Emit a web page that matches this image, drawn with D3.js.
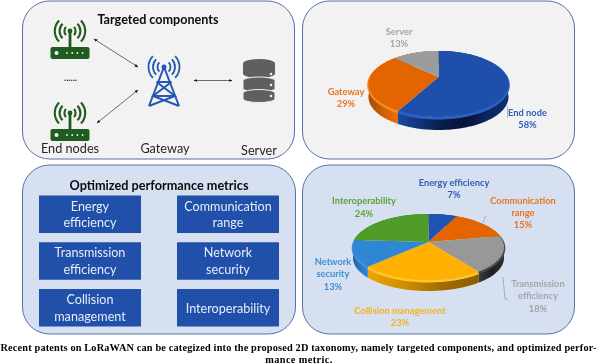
<!DOCTYPE html>
<html>
<head>
<meta charset="utf-8">
<script src="https://cdn.jsdelivr.net/npm/d3@7"></script>
<style>
html, body { margin: 0; padding: 0; background: #fff; }
svg { display: block; filter: blur(0.3px); }
text { font-family: Lato, "Open Sans", sans-serif; }
.caption { font-family: "Liberation Serif", serif; font-weight: bold; font-size: 10.3px; fill: #000; }
</style>
</head>
<body>
<svg id="chart" width="600" height="364"></svg>
<script>
//data
const componentNames = ["End node", "Gateway", "Server"];
const componentShares = [58, 29, 13];
const metricNames = ["Energy efficiency", "Communication range", "Transmission efficiency", "Collision management", "Network security", "Interoperability"];
const metricShares = [7, 15, 18, 23, 13, 24];
const boxLabels = [["Energy", "efficiency"], ["Communication", "range"], ["Transmission", "efficiency"], ["Network", "security"], ["Collision", "management"], ["Interoperability"]];
const nodeLabels = ["End nodes", "Gateway", "Server"];
const captionLines = ["Recent patents on LoRaWAN can be categized into the proposed 2D taxonomy, namely targeted components, and optimized perfor-", "mance metric."];

const svg = d3.select("#chart");
const defs = svg.append("defs");

//panels
function panel(x, y, w, h, fill) {
    svg.append("rect")
        .attr("x", x).attr("y", y).attr("width", w).attr("height", h)
        .attr("rx", 27).attr("ry", 27)
        .attr("fill", fill)
        .attr("stroke", "#5471a8")
        .attr("stroke-width", 1);
}
panel(22.5, 1, 272, 158, "#f2f2f2");
panel(302.5, 1, 272, 158, "#f2f2f2");
panel(22.5, 165, 273, 169, "#d6e0f1");
panel(302.5, 165, 272, 169, "#d6e0f1");

function label(x, y, lines, size, color, weight, step) {
    lines.forEach((s, i) => {
        svg.append("text")
            .attr("x", x).attr("y", y + i * step)
            .attr("text-anchor", "middle")
            .attr("font-size", size)
            .attr("font-weight", weight || "normal")
            .attr("fill", color)
            .text(s);
    });
}

//3D pie, the top face is a circle under perspective
function pie3d(id, values, opt) {
    const pie = d3.pie().sort(null).value(d => d)(values);
    const k = (opt.up - opt.down) / (opt.up + opt.down);
    const a = opt.down * (1 + k);
    const b = opt.rx * Math.sqrt(1 - k * k);
    const g = svg.append("g").attr("transform", `translate(${opt.cx}, ${opt.cy})`);
    const line = d3.line();

    const rim = function(d) {
        const n = Math.ceil((d.endAngle - d.startAngle) * 40);
        return d3.range(n + 1).map(i => {
            const t = d.startAngle + (d.endAngle - d.startAngle) * i / n;
            const x = Math.sin(t), y = -Math.cos(t), w = 1 + k * y;
            return [b * x / w, a * y / w];
        });
    };

    //side wall
    pie.forEach((d, i) => {
        const pts = rim(d);
        const grad = defs.append("linearGradient")
            .attr("id", `${id}-wall-${i}`)
            .attr("gradientUnits", "userSpaceOnUse")
            .attr("x1", d3.min(pts, p => p[0])).attr("x2", d3.max(pts, p => p[0]))
            .attr("y1", 0).attr("y2", 0);
        opt.walls[i].forEach((c, j, all) => {
            grad.append("stop").attr("offset", j / (all.length - 1)).attr("stop-color", c);
        });
        const low = pts.map(p => [p[0], p[1] + opt.depth]).reverse();
        g.append("path")
            .attr("d", line(pts.concat(low)) + "Z")
            .attr("fill", `url(#${id}-wall-${i})`);
    });

    //bevel just under the rim
    pie.forEach((d, i) => {
        const pts = rim(d).map(p => [p[0], p[1] + 1.2]);
        g.append("path")
            .attr("d", line(pts))
            .attr("fill", "none")
            .attr("stroke", opt.bevel[i])
            .attr("stroke-width", 2.6);
    });

    //top face
    pie.forEach((d, i) => {
        g.append("path")
            .attr("d", line([[0, 0]].concat(rim(d))) + "Z")
            .attr("fill", opt.tops[i]);
    });
}

pie3d("parts", componentShares, {
    cx: 438.5, cy: 77, rx: 70, up: 26, down: 40, depth: 13,
    tops: ["#1d4fab", "#e36500", "#9c9c9c"],
    bevel: ["#2a62c4", "#f58a25", "#8a8a8a"],
    walls: [
        ["#1d4a9e", "#12327a", "#0a1c4a", "#061238", "#0c2460", "#10306f"],
        ["#a84c04", "#cf5f06", "#e8700c"],
        ["#777777", "#777777"]
    ]
});

pie3d("metrics", metricShares, {
    cx: 428.5, cy: 242, rx: 75.5, up: 28, down: 38, depth: 11,
    tops: ["#1e55b4", "#e46400", "#989898", "#ffb000", "#2f86d2", "#4f9c2a"],
    bevel: ["#1e55b4", "#e46400", "#4a4a4a", "#ffc52e", "#3b93dc", "#4f9c2a"],
    walls: [
        ["#1e55b4", "#1e55b4"],
        ["#e46400", "#e46400"],
        ["#3a3a3a", "#202020", "#2c2c2c"],
        ["#efa500", "#cf8e00", "#a06c00", "#8c5c00"],
        ["#1f5f9e", "#2a78c0", "#2f86d2"],
        ["#4f9c2a", "#4f9c2a"]
    ]
});

//pie labels
const grey = "#a5a5a5", blue = "#2f5fb4", orange = "#e8761f";
const pieFont = 9.3;
label(399, 35, [componentNames[2], componentShares[2] + "%"], pieFont, grey, "bold", 12);
label(346, 95, [componentNames[1], componentShares[1] + "%"], pieFont, orange, "bold", 12.2);
label(527.5, 116, [componentNames[0], componentShares[0] + "%"], pieFont, blue, "bold", 12.2);
label(454, 186, [metricNames[0], metricShares[0] + "%"], pieFont, blue, "bold", 12.2);
label(364, 204, [metricNames[5], metricShares[5] + "%"], pieFont, "#5ea33a", "bold", 12.6);
label(523, 204, ["Communication", "range", metricShares[1] + "%"], pieFont, orange, "bold", 12.2);
label(333, 265, ["Network", "security", metricShares[4] + "%"], pieFont, "#3d8fd6", "bold", 12.3);
label(538, 287, ["Transmission", "efficiency", metricShares[2] + "%"], pieFont, grey, "bold", 12.3);
label(400, 314, [metricNames[3], metricShares[3] + "%"], pieFont, "#f5b21a", "bold", 12.3);

//leader lines
const leader = d3.line();
function lead(pts) {
    svg.append("path").attr("d", leader(pts)).attr("fill", "none")
        .attr("stroke", "#8d9bb3").attr("stroke-width", 0.7);
}
lead([[507.5, 106], [507.5, 118]]);
lead([[483, 223], [485.5, 216]]);
lead([[503, 277], [505, 299], [508, 299]]);

//left bottom panel
label(159, 189.5, ["Optimized performance metrics"], 12.7, "#0a0a0a", "bold", 0);
const boxX = d3.scalePoint().domain([0, 1]).range([39, 177]);
const boxY = d3.scalePoint().domain([0, 1, 2]).range([195.5, 289]);
boxLabels.forEach((lines, i) => {
    const x = boxX(i % 2), y = boxY(Math.floor(i / 2));
    svg.append("rect")
        .attr("x", x).attr("y", y).attr("width", 102).attr("height", 37.5)
        .attr("fill", "#2050aa");
    const base = lines.length === 2 ? y + 15 : y + 23.5;
    label(x + 51, base, lines, 12.6, "#e6ecf8", "normal", 16.5);
});

//left top panel
label(158, 24, ["Targeted components"], 12.6, "#0a0a0a", "bold", 0);
label(70, 153, [nodeLabels[0]], 12.7, "#262626", "normal", 0);
label(165, 153, [nodeLabels[1]], 12.7, "#262626", "normal", 0);
label(259, 155, [nodeLabels[2]], 12.7, "#262626", "normal", 0);
label(70.5, 81, ["......"], 9, "#262626", "bold", 0);

//waves used by router and tower icons
function waves(g, radii, color, sw) {
    const arc = d3.arc();
    radii.forEach(r => {
        [[-2.34, -0.8], [0.8, 2.34]].forEach(s => {
            g.append("path")
                .attr("d", arc({innerRadius: r - sw / 2, outerRadius: r + sw / 2, startAngle: s[0], endAngle: s[1]}))
                .attr("fill", color);
        });
    });
}

function router(cy) {
    const c = "#205b20";
    const g = svg.append("g").attr("transform", `translate(70, ${cy})`);
    waves(g, [5.6, 10.4, 15.2], c, 2.1);
    g.append("circle").attr("r", 2.4).attr("fill", c);
    g.append("rect").attr("x", -1.4).attr("y", 0).attr("width", 2.8).attr("height", 17).attr("fill", c);
    g.append("rect").attr("x", -19.5).attr("y", 16).attr("width", 39).attr("height", 12).attr("rx", 2).attr("fill", c);
    g.append("circle").attr("cx", -13.5).attr("cy", 22).attr("r", 2).attr("fill", "#f2f2f2");
    d3.range(4).forEach(i => {
        g.append("circle").attr("cx", -3 + i * 5.2).attr("cy", 22).attr("r", 0.9).attr("fill", "#f2f2f2");
    });
}
router(31);
router(113);

//tower
const tower = svg.append("g").attr("transform", "translate(164, 67)");
waves(tower, [6.5, 11, 15.5], "#2558b2", 1.8);
tower.append("circle").attr("r", 2.5).attr("fill", "#2558b2");
const towerPaths = [
    [[-15, 39], [0, 0], [15, 39]],
    [[-7.5, 15], [7.5, 15]],
    [[-7.5, 15], [11, 29], [-15, 39]],
    [[7.5, 15], [-11, 29], [15, 39]],
    [[-11, 29], [11, 29]]
];
towerPaths.forEach(p => {
    tower.append("path").attr("d", d3.line()(p)).attr("fill", "none")
        .attr("stroke", "#2558b2").attr("stroke-width", 2);
});

//server
const server = svg.append("g").attr("transform", "translate(259, 0)");
[[59, 19], [77, 15], [89.5, 13]].forEach((s, i) => {
    const top = s[0], h = s[1];
    const rx = 16, ry = i === 0 ? 4.5 : 3.5;
    const d = `M${-rx},${top + ry} A${rx},${ry} 0 0 1 ${rx},${top + ry} V${top + h - ry} A${rx},${ry} 0 0 1 ${-rx},${top + h - ry} Z`;
    server.append("path").attr("d", d).attr("fill", "#5f5f5f").attr("stroke", "#f2f2f2").attr("stroke-width", i === 0 ? 0 : 1);
});
[74, 85, 96].forEach(y => {
    server.append("circle").attr("cx", 12).attr("cy", y).attr("r", 1.3).attr("fill", "#f2f2f2");
});

//arrows
defs.append("marker")
    .attr("id", "head").attr("viewBox", "0 0 10 10")
    .attr("refX", 9).attr("refY", 5)
    .attr("markerWidth", 5.5).attr("markerHeight", 5.5)
    .attr("orient", "auto-start-reverse")
    .append("path").attr("d", "M0,1 L10,5 L0,9 Z").attr("fill", "#1a1a1a");
[[[94, 39], [138, 67]], [[97, 123], [138, 90]], [[194, 80.5], [232, 80.5]]].forEach(p => {
    svg.append("path").attr("d", d3.line()(p))
        .attr("stroke", "#333").attr("stroke-width", 0.7)
        .attr("marker-start", "url(#head)").attr("marker-end", "url(#head)");
});

//caption
svg.append("text").attr("class", "caption")
    .attr("x", 0.5).attr("y", 351)
    .attr("textLength", 596).attr("lengthAdjust", "spacing")
    .text(captionLines[0]);
svg.append("text").attr("class", "caption")
    .attr("x", 299).attr("y", 363)
    .attr("text-anchor", "middle")
    .attr("letter-spacing", 0.4)
    .text(captionLines[1]);
</script>
</body>
</html>
